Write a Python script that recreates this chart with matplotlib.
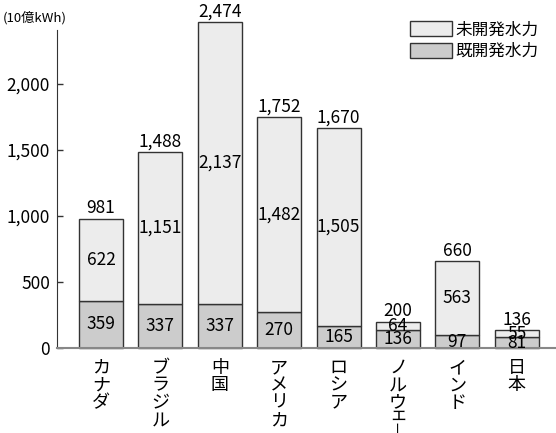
import matplotlib
matplotlib.use('Agg')
import matplotlib.pyplot as plt

plt.rcParams['font.family'] = ['Noto Sans CJK JP', 'DejaVu Sans']

# data (10億kWh)
countries = ['カナダ', 'ブラジル', '中国', 'アメリカ', 'ロシア', 'ノルウェー', 'インド', '日本']
developed = [359, 337, 337, 270, 165, 136, 97, 81]
undeveloped = [622, 1151, 2137, 1482, 1505, 64, 563, 55]
totals = [981, 1488, 2474, 1752, 1670, 200, 660, 136]
yticks = [0, 500, 1000, 1500, 2000]

c_undev = '#ececec'
c_dev = '#cccccc'
edge = '#333333'

fig = plt.figure(figsize=(5.56, 4.33), dpi=100)
ax = fig.add_axes([0.1025, 0.1963, 0.8975, 0.7344])

x = range(len(countries))
w = 0.74
b1 = ax.bar(x, developed, width=w, color=c_dev, edgecolor=edge, linewidth=1.0,
            label='既開発水力', clip_on=False, zorder=2)
b2 = ax.bar(x, undeveloped, width=w, bottom=developed, color=c_undev, edgecolor=edge,
            linewidth=1.0, label='未開発水力', clip_on=False, zorder=2)

fs = 12.5
for i in x:
    d, u, t = developed[i], undeveloped[i], totals[i]
    ax.text(i, d / 2, f'{d:,}', ha='center', va='center', fontsize=fs, zorder=3)
    ax.text(i, d + u / 2, f'{u:,}', ha='center', va='center', fontsize=fs, zorder=3)
    ax.annotate(f'{t:,}', xy=(i, t), xytext=(0, 1), textcoords='offset points',
                ha='center', va='bottom', fontsize=fs, annotation_clip=False)

# vertical category labels, one character per line (small kana take less room)
small = 'ァィゥェォャュョッー'
step = 12.5
for i, name in enumerate(countries):
    y = -14.4
    for j, ch in enumerate(name):
        if j > 0:
            y -= step * (0.7 if (ch in small or name[j - 1] in small) else 1.0)
        ax.annotate(ch, xy=(i, 0), xycoords=('data', 'axes fraction'),
                    xytext=(0, y), textcoords='offset points',
                    ha='center', va='center', fontsize=10 if ch == 'ー' else 13,
                    rotation=90 if ch == 'ー' else 0, annotation_clip=False)

ax.set_xlim(-0.74, 7.66)
ax.set_ylim(0, 2410)
ax.set_xticks([])
ax.set_yticks(yticks)
ax.set_yticklabels([f'{v:,}' for v in yticks], fontsize=fs)
ax.tick_params(axis='y', direction='in', length=4, width=1, color='#333333', pad=5)

ax.spines['top'].set_visible(False)
ax.spines['right'].set_visible(False)
ax.spines['left'].set_color('#333333')
ax.spines['bottom'].set_color('#888888')
ax.spines['bottom'].set_linewidth(1.5)

fig.text(0.005, 0.958, '(10億kWh)', fontsize=9.5, ha='left', va='center')

handles = [b2, b1]
fig.legend(handles, ['未開発水力', '既開発水力'], loc='upper right',
           bbox_to_anchor=(0.995, 0.985), frameon=False, fontsize=12,
           handlelength=2.5, handleheight=1.0, handletextpad=0.2, labelspacing=0.25)

fig.savefig('out.png', dpi=100)
